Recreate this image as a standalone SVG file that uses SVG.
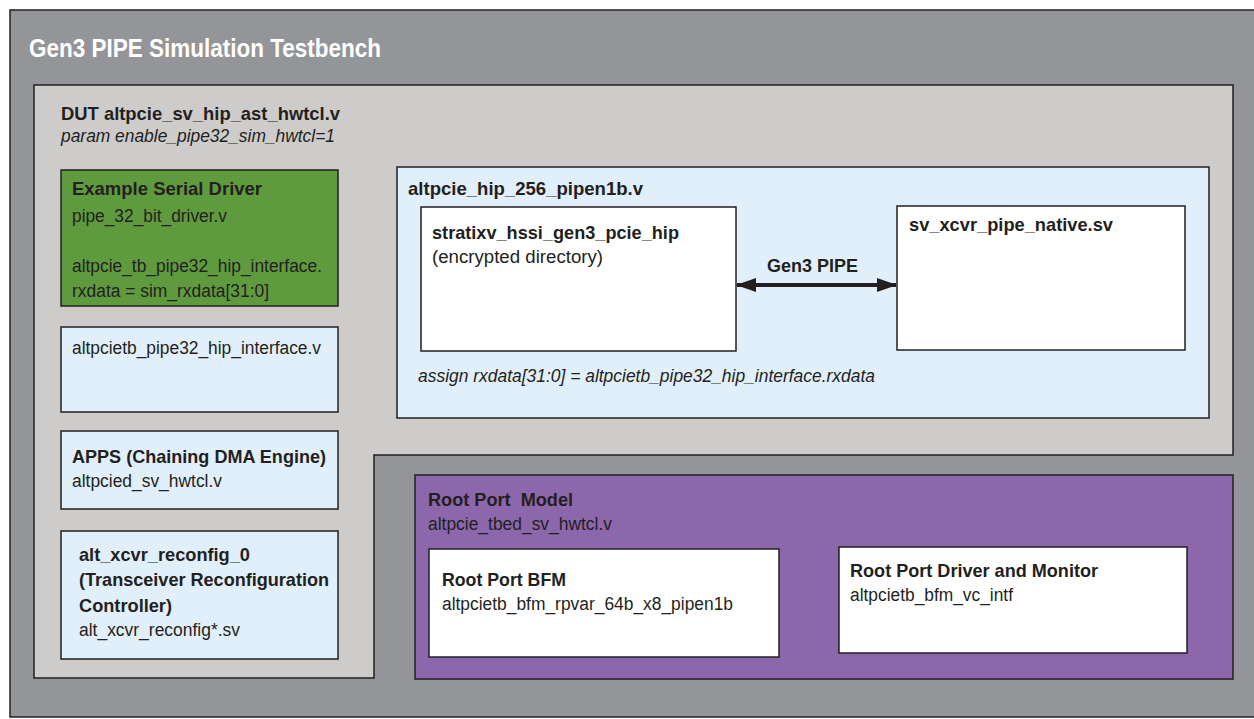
<svg xmlns="http://www.w3.org/2000/svg" width="1254" height="719" viewBox="0 0 1254 719">
  <defs>
    <style>
      .frame { stroke: #231f20; stroke-width: 1.5; }
      .outer { fill: #939598; }
      .dut { fill: #cdcccb; }
      .green { fill: #5f9a3e; }
      .blue { fill: #e1effa; }
      .purple { fill: #8d67ab; }
      .white { fill: #ffffff; }
      text { font-family: "Liberation Sans Narrow", "Liberation Sans", Arial, sans-serif; fill: #231f20; }
      .b { font-weight: bold; font-size: 19px; }
      .r { font-size: 18px; }
      .i { font-style: italic; font-size: 18px; }
      .title { font-weight: bold; font-size: 26px; fill: #ffffff; }
      .pre { white-space: pre; }
      .wire { stroke: #231f20; stroke-width: 4; fill: none; }
    </style>
    <marker id="head" viewBox="0 0 20 14" refX="19" refY="7" markerWidth="20" markerHeight="14" markerUnits="userSpaceOnUse" orient="auto-start-reverse">
      <path d="M0,0 L20,7 L0,14 Z" fill="#231f20"/>
    </marker>
  </defs>

  <!-- testbench frame -->
  <g id="testbench">
    <rect class="outer frame" x="10" y="10" width="1250" height="707"/>
    <text class="title" x="29" y="57" textLength="352" lengthAdjust="spacingAndGlyphs">Gen3 PIPE Simulation Testbench</text>
  </g>

  <!-- DUT (L-shaped) -->
  <g id="dut">
    <path class="dut frame" d="M34,85 H1233 V455 H374 V678 H34 Z"/>
    <text class="b" x="61" y="120" textLength="279" lengthAdjust="spacingAndGlyphs">DUT altpcie_sv_hip_ast_hwtcl.v</text>
    <text class="i" x="61" y="142" textLength="274" lengthAdjust="spacingAndGlyphs">param enable_pipe32_sim_hwtcl=1</text>
  </g>

  <g id="serial-driver">
    <rect class="green frame" x="61" y="170" width="277" height="136"/>
    <text class="b" x="72" y="195" textLength="190" lengthAdjust="spacingAndGlyphs">Example Serial Driver</text>
    <text class="r" x="72" y="222" textLength="155" lengthAdjust="spacingAndGlyphs">pipe_32_bit_driver.v</text>
    <text class="r" x="72" y="272" textLength="250" lengthAdjust="spacingAndGlyphs">altpcie_tb_pipe32_hip_interface.</text>
    <text class="r" x="72" y="297" textLength="197" lengthAdjust="spacingAndGlyphs">rxdata = sim_rxdata[31:0]</text>
  </g>

  <g id="pipe32-interface">
    <rect class="blue frame" x="61" y="327" width="277" height="85"/>
    <text class="r" x="72" y="354" textLength="249" lengthAdjust="spacingAndGlyphs">altpcietb_pipe32_hip_interface.v</text>
  </g>

  <g id="apps">
    <rect class="blue frame" x="61" y="431" width="277" height="78"/>
    <text class="b" x="72" y="463" textLength="254" lengthAdjust="spacingAndGlyphs">APPS (Chaining DMA Engine)</text>
    <text class="r" x="72" y="487" textLength="150" lengthAdjust="spacingAndGlyphs">altpcied_sv_hwtcl.v</text>
  </g>

  <g id="xcvr-reconfig">
    <rect class="blue frame" x="61" y="531" width="277" height="128"/>
    <text class="b" x="79" y="561" textLength="171" lengthAdjust="spacingAndGlyphs">alt_xcvr_reconfig_0</text>
    <text class="b" x="79" y="586" textLength="250" lengthAdjust="spacingAndGlyphs">(Transceiver Reconfiguration</text>
    <text class="b" x="79" y="612" textLength="93" lengthAdjust="spacingAndGlyphs">Controller)</text>
    <text class="r" x="79" y="636" textLength="161" lengthAdjust="spacingAndGlyphs">alt_xcvr_reconfig*.sv</text>
  </g>

  <g id="hip-256">
    <rect class="blue frame" x="397" y="167" width="812" height="251"/>
    <text class="b" x="408" y="195" textLength="235" lengthAdjust="spacingAndGlyphs">altpcie_hip_256_pipen1b.v</text>
    <text class="i" x="418" y="382" textLength="457" lengthAdjust="spacingAndGlyphs">assign rxdata[31:0] = altpcietb_pipe32_hip_interface.rxdata</text>
  </g>

  <g id="gen3-pcie-hip">
    <rect class="white frame" x="421" y="207" width="315" height="144"/>
    <text class="b" x="432" y="239" textLength="247" lengthAdjust="spacingAndGlyphs">stratixv_hssi_gen3_pcie_hip</text>
    <text class="r" x="432" y="263" textLength="171" lengthAdjust="spacingAndGlyphs">(encrypted directory)</text>
  </g>

  <g id="pipe-native">
    <rect class="white frame" x="897" y="206" width="288" height="144"/>
    <text class="b" x="909" y="231" textLength="204" lengthAdjust="spacingAndGlyphs">sv_xcvr_pipe_native.sv</text>
  </g>

  <g id="root-port-model">
    <rect class="purple frame" x="415" y="475" width="818" height="204"/>
    <text class="b pre" x="428" y="506" textLength="145" lengthAdjust="spacingAndGlyphs">Root Port  Model</text>
    <text class="r" x="428" y="530" textLength="184" lengthAdjust="spacingAndGlyphs">altpcie_tbed_sv_hwtcl.v</text>
  </g>

  <g id="root-port-bfm">
    <rect class="white frame" x="429" y="549" width="350" height="108"/>
    <text class="b" x="442" y="586" textLength="124" lengthAdjust="spacingAndGlyphs">Root Port BFM</text>
    <text class="r" x="442" y="610" textLength="291" lengthAdjust="spacingAndGlyphs">altpcietb_bfm_rpvar_64b_x8_pipen1b</text>
  </g>

  <g id="root-port-driver">
    <rect class="white frame" x="839" y="547" width="348" height="106"/>
    <text class="b" x="850" y="577" textLength="248" lengthAdjust="spacingAndGlyphs">Root Port Driver and Monitor</text>
    <text class="r" x="850" y="601" textLength="163" lengthAdjust="spacingAndGlyphs">altpcietb_bfm_vc_intf</text>
  </g>

  <!-- connectors -->
  <g id="connectors">
    <line class="wire" x1="737" y1="285" x2="896" y2="285" marker-start="url(#head)" marker-end="url(#head)"/>
    <text class="b" x="767" y="272" textLength="91" lengthAdjust="spacingAndGlyphs">Gen3 PIPE</text>
  </g>
</svg>
